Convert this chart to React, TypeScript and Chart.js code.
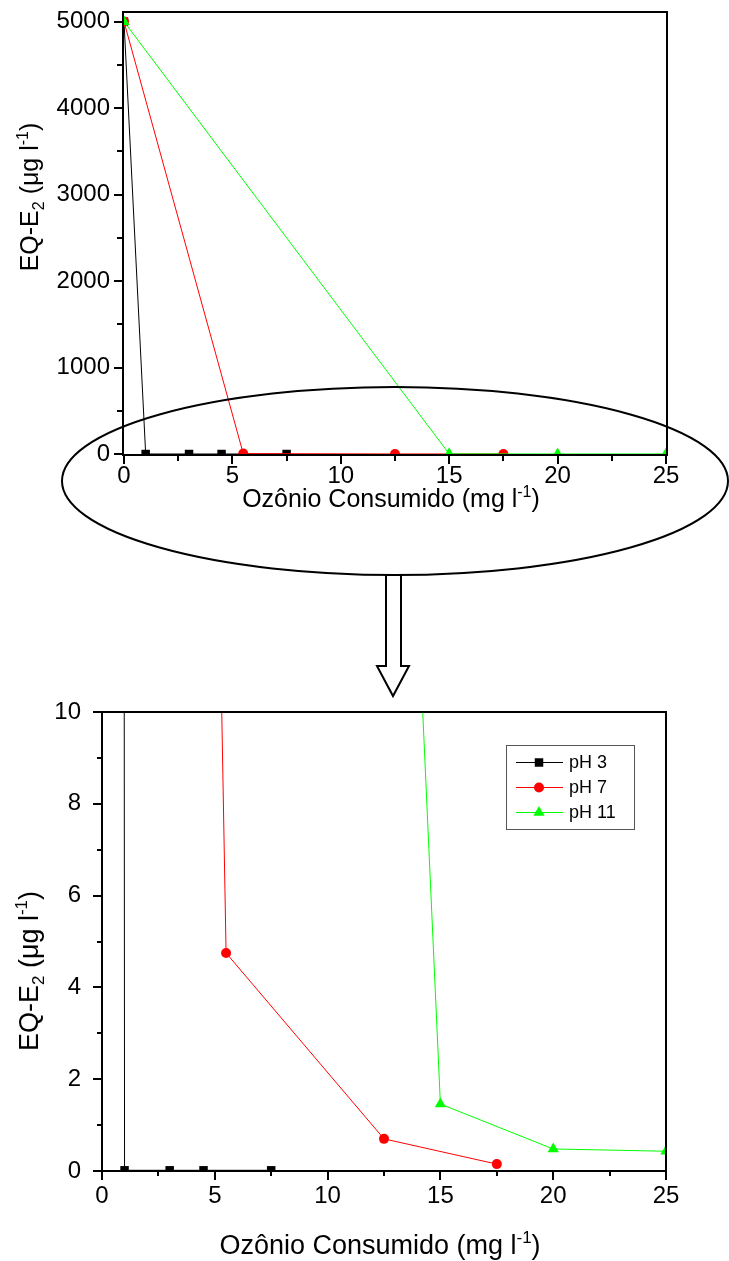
import React, { useEffect, useRef } from "react";
import { Chart, registerables } from "chart.js";
import { drawPoint } from "chart.js/helpers";
Chart.register(...registerables);

const FONT = '"Liberation Sans", Arial, Helvetica, sans-serif';

// ---------- data ----------
const seriesLabels = ["pH 3", "pH 7", "pH 11"];
const seriesColors = ["#000000", "#ff0000", "#00ff00"];
const seriesMarkers = ["rect", "circle", "triangle"];
const seriesMarkerRadius = [6, 5, 6.5];

const ph3X = [0, 1, 3, 4.5, 7.5];
const ph3Y = [5000, 0.015, 0.015, 0.015, 0.015];
const ph7X = [0, 5.5, 12.5, 17.5];
const ph7Y = [5000, 4.75, 0.7, 0.15];
const ph11X = [0, 15, 20, 25];
const ph11Y = [5000, 1.46, 0.48, 0.43];
// value at x = 0 of each line as it enters the zoomed (lower) panel
const zoomEntryY = [5000, 155, 165];

const topXMajor = [0, 5, 10, 15, 20, 25];
const topXMinor = [2.5, 7.5, 12.5, 17.5, 22.5];
const topYMajor = [0, 1000, 2000, 3000, 4000, 5000];
const topYMinor = [500, 1500, 2500, 3500, 4500];
const botXMajor = [0, 5, 10, 15, 20, 25];
const botXMinor = [2.5, 7.5, 12.5, 17.5, 22.5];
const botYMajor = [0, 2, 4, 6, 8, 10];
const botYMinor = [1, 3, 5, 7, 9];

type Seg = { t: string; k?: "sub" | "sup" };
const xTitleSegs: Seg[] = [{ t: "Ozônio Consumido (mg l" }, { t: "-1", k: "sup" }, { t: ")" }];
const yTitleSegs: Seg[] = [
  { t: "EQ-E" },
  { t: "2", k: "sub" },
  { t: " (μg l" },
  { t: "-1", k: "sup" },
  { t: ")" },
];

// ---------- helpers ----------
function drawRich(ctx: CanvasRenderingContext2D, segs: Seg[], size: number, cx: number, cy: number, rotated: boolean) {
  ctx.save();
  ctx.translate(cx, cy);
  if (rotated) ctx.rotate(-Math.PI / 2);
  ctx.fillStyle = "#000";
  ctx.textBaseline = "alphabetic";
  ctx.textAlign = "left";
  const fontFor = (s: Seg) => `${s.k ? Math.round(size * 0.62) : size}px ${FONT}`;
  let total = 0;
  for (const s of segs) {
    ctx.font = fontFor(s);
    total += ctx.measureText(s.t).width;
  }
  let x = -total / 2;
  for (const s of segs) {
    ctx.font = fontFor(s);
    const dy = s.k === "sub" ? size * 0.22 : s.k === "sup" ? -size * 0.42 : 0;
    ctx.fillText(s.t, x, dy);
    x += ctx.measureText(s.t).width;
  }
  ctx.restore();
}

function buildDatasets(view: "top" | "bottom") {
  const xs = [ph3X, ph7X, ph11X];
  const ys = [ph3Y, ph7Y, ph11Y];
  return seriesLabels.map((label, i) => ({
    label,
    data: xs[i].map((x, j) => ({ x, y: view === "bottom" && j === 0 ? zoomEntryY[i] : ys[i][j] })),
    borderColor: seriesColors[i],
    backgroundColor: seriesColors[i],
    borderWidth: 1,
    pointStyle: seriesMarkers[i],
    pointRadius: seriesMarkerRadius[i],
    pointBorderWidth: 0,
    pointHoverRadius: seriesMarkerRadius[i],
    showLine: true,
    tension: 0,
    clip: 0,
    order: 2 - i,
  }));
}

function frameTicksPlugin(
  xMajor: number[],
  xMinor: number[],
  yMajor: number[],
  yMinor: number[],
  majLen: number,
  minLen: number,
  outside: boolean
) {
  return {
    id: "frameTicks",
    afterDraw(chart: any) {
      const ctx: CanvasRenderingContext2D = chart.ctx;
      const a = chart.chartArea;
      const sx = chart.scales.x;
      const sy = chart.scales.y;
      const o = outside ? 1 : 0;
      ctx.save();
      ctx.strokeStyle = "#000";
      ctx.lineWidth = 2;
      ctx.strokeRect(a.left - o, a.top - o, a.right - a.left + 2 * o, a.bottom - a.top + 2 * o);
      ctx.beginPath();
      const b0 = a.bottom + 2 * o;
      const l0 = a.left - 2 * o;
      const xt = (v: number, len: number) => {
        const p = Math.round(sx.getPixelForValue(v));
        ctx.moveTo(p, b0);
        ctx.lineTo(p, b0 + len);
      };
      const yt = (v: number, len: number) => {
        const p = Math.round(sy.getPixelForValue(v));
        ctx.moveTo(l0, p);
        ctx.lineTo(l0 - len, p);
      };
      xMajor.forEach((v) => xt(v, majLen));
      xMinor.forEach((v) => xt(v, minLen));
      yMajor.forEach((v) => yt(v, majLen));
      yMinor.forEach((v) => yt(v, minLen));
      ctx.stroke();
      ctx.restore();
    },
  };
}

function titlesPlugin(size: number, xCenter: number, xBaseline: number, yBaselineX: number, yCenter: number) {
  return {
    id: "axisTitles",
    afterDraw(chart: any) {
      const ctx: CanvasRenderingContext2D = chart.ctx;
      drawRich(ctx, xTitleSegs, size, xCenter, xBaseline, false);
      drawRich(ctx, yTitleSegs, size, yBaselineX, yCenter, true);
    },
  };
}

const ellipseArrowPlugin = {
  id: "ellipseArrow",
  afterDraw(chart: any) {
    const ctx: CanvasRenderingContext2D = chart.ctx;
    ctx.save();
    ctx.strokeStyle = "#000";
    ctx.lineWidth = 2;
    ctx.beginPath();
    ctx.ellipse(395, 481, 333, 94, 0, 0, Math.PI * 2);
    ctx.stroke();
    ctx.beginPath();
    ctx.moveTo(386, 575);
    ctx.lineTo(401, 575);
    ctx.lineTo(401, 666);
    ctx.lineTo(409, 666);
    ctx.lineTo(393, 696);
    ctx.lineTo(377, 666);
    ctx.lineTo(386, 666);
    ctx.closePath();
    ctx.fillStyle = "#fff";
    ctx.fill();
    ctx.stroke();
    ctx.restore();
  },
};

const legendPlugin = {
  id: "legendBox",
  afterDraw(chart: any) {
    const ctx: CanvasRenderingContext2D = chart.ctx;
    const bx = 506, by = 65, bw = 128, bh = 84;
    ctx.save();
    ctx.fillStyle = "#fff";
    ctx.fillRect(bx, by, bw, bh);
    ctx.strokeStyle = "#555";
    ctx.lineWidth = 1;
    ctx.strokeRect(bx + 0.5, by + 0.5, bw, bh);
    chart.data.datasets.forEach((ds: any, i: number) => {
      const y = by + 17 + i * 25;
      ctx.strokeStyle = ds.borderColor;
      ctx.lineWidth = 1;
      ctx.beginPath();
      ctx.moveTo(516, y + 0.5);
      ctx.lineTo(563, y + 0.5);
      ctx.stroke();
      ctx.fillStyle = ds.backgroundColor;
      drawPoint(ctx, { pointStyle: ds.pointStyle, radius: ds.pointRadius, borderWidth: 0, rotation: 0 } as any, 539, y + 0.5);
      ctx.fillStyle = "#000";
      ctx.font = `18px ${FONT}`;
      ctx.textBaseline = "middle";
      ctx.textAlign = "left";
      ctx.fillText(ds.label, 569, y + 1);
    });
    ctx.restore();
  },
};

function scalesFor(
  xMin: number,
  xMax: number,
  yMin: number,
  yMax: number,
  xTicks: number[],
  yTicks: number[],
  yWidth: number,
  yOffset: number,
  xOffset: number
) {
  const tickFont = { family: FONT, size: 24, lineHeight: 1 };
  return {
    x: {
      type: "linear",
      min: xMin,
      max: xMax,
      position: "bottom",
      afterBuildTicks: (s: any) => {
        s.ticks = xTicks.map((v) => ({ value: v }));
      },
      afterFit: (s: any) => {
        s.height = 50;
      },
      grid: { display: false, drawTicks: true, tickLength: xOffset },
      border: { display: false },
      ticks: { padding: 0, font: tickFont, color: "#000", maxRotation: 0, autoSkip: false, callback: (v: any) => String(v) },
    },
    y: {
      type: "linear",
      min: yMin,
      max: yMax,
      position: "left",
      afterBuildTicks: (s: any) => {
        s.ticks = yTicks.map((v) => ({ value: v }));
      },
      afterFit: (s: any) => {
        s.width = yWidth;
      },
      grid: { display: false, drawTicks: true, tickLength: yOffset },
      border: { display: false },
      ticks: { padding: 0, font: tickFont, color: "#000", autoSkip: false, callback: (v: any) => String(v) },
    },
  };
}

export default function App() {
  const topRef = useRef<HTMLCanvasElement>(null);
  const botRef = useRef<HTMLCanvasElement>(null);

  useEffect(() => {
    const top = new Chart(topRef.current as HTMLCanvasElement, {
      type: "scatter",
      data: { datasets: buildDatasets("top") as any },
      options: {
        responsive: false,
        animation: false,
        devicePixelRatio: 1,
        events: [],
        layout: { padding: { left: 0, top: 13, right: 63, bottom: 196 } },
        plugins: { legend: { display: false }, tooltip: { enabled: false } },
        scales: scalesFor(0, 25, 0, 5100, topXMajor, topYMajor, 124, 14, 10) as any,
      },
      plugins: [
        frameTicksPlugin(topXMajor, topXMinor, topYMajor, topYMinor, 8, 5, true),
        titlesPlugin(25, 391, 507, 38, 197),
        ellipseArrowPlugin,
      ],
    });
    const bot = new Chart(botRef.current as HTMLCanvasElement, {
      type: "scatter",
      data: { datasets: buildDatasets("bottom") as any },
      options: {
        responsive: false,
        animation: false,
        devicePixelRatio: 1,
        events: [],
        layout: { padding: { left: 0, top: 32, right: 63, bottom: 40 } },
        plugins: { legend: { display: false }, tooltip: { enabled: false } },
        scales: scalesFor(0, 25, 0, 10, botXMajor, botYMajor, 102, 21, 13) as any,
      },
      plugins: [
        frameTicksPlugin(botXMajor, botXMinor, botYMajor, botYMinor, 9, 5, false),
        titlesPlugin(27, 380, 574, 38, 291),
        legendPlugin,
      ],
    });
    return () => {
      top.destroy();
      bot.destroy();
    };
  }, []);

  return (
    <div style={{ position: "absolute", left: 0, top: 0, width: 729, height: 1261, background: "#fff" }}>
      <canvas ref={topRef} width={729} height={700} style={{ position: "absolute", left: 0, top: 0, width: 729, height: 700 }} />
      <canvas ref={botRef} width={729} height={581} style={{ position: "absolute", left: 0, top: 680, width: 729, height: 581 }} />
    </div>
  );
}
